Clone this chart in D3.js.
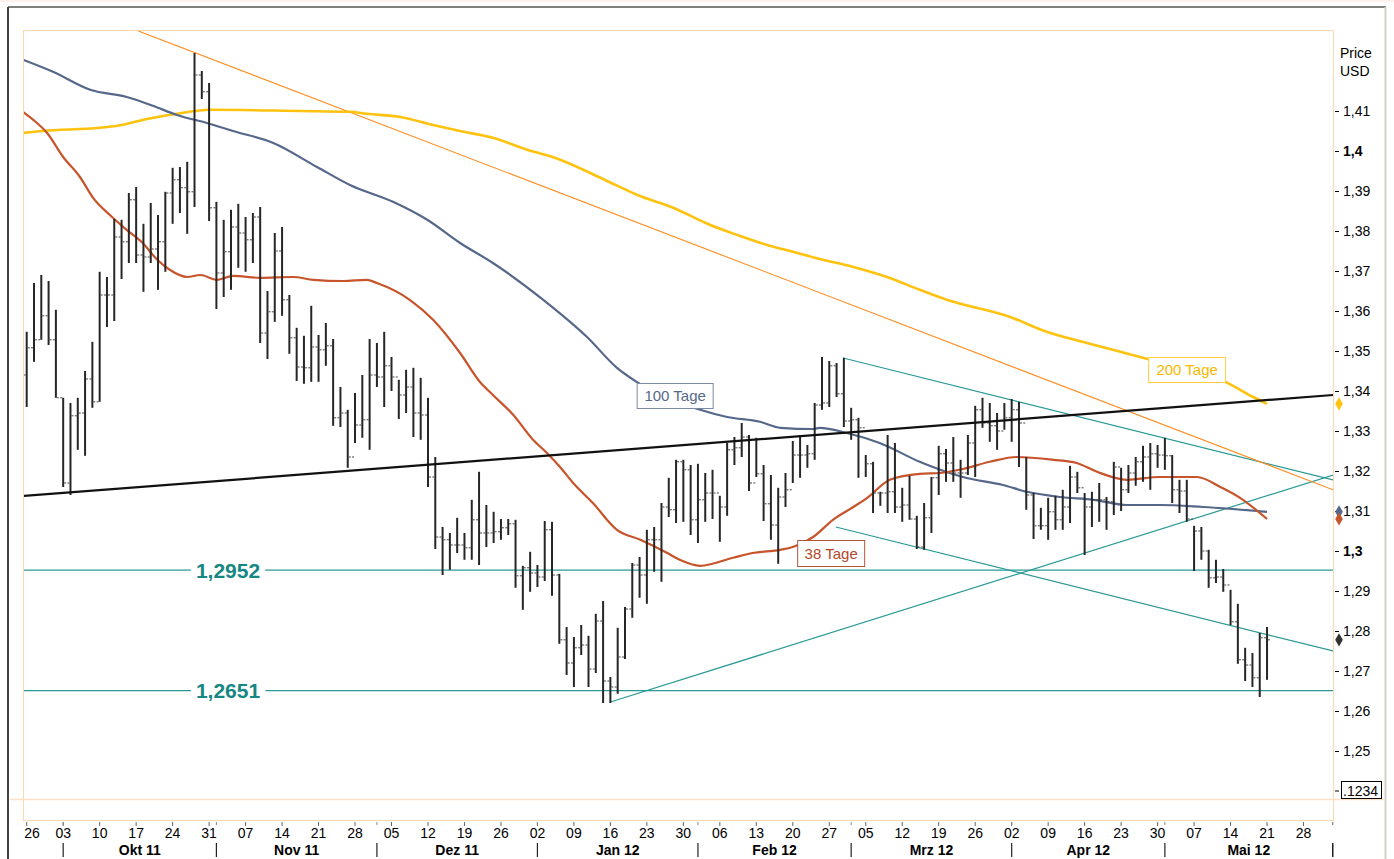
<!DOCTYPE html>
<meta charset="utf-8">
<script src="https://d3js.org/d3.v7.min.js"></script>
<style>
body { margin: 0; background: #fff; }
#chart svg { display: block; font-family: "Liberation Sans", Arial, sans-serif; }
</style>
<div id="chart"></div>
<script>
// ---- data (EUR/USD daily bars, trading-day index 0 = 26 Sep 2011) ----
var highs = [1.3548,1.3670,1.3690,1.3675,1.3603,1.3383,1.3370,1.3383,1.3450,1.3523,
  1.3698,1.3685,1.3830,1.3828,1.3895,1.3910,1.3818,1.3870,1.3840,1.3898,
  1.3958,1.3960,1.3973,1.4245,1.4200,1.4170,1.3873,1.3828,1.3853,1.3868,
  1.3835,1.3845,1.3860,1.3650,1.3795,1.3810,1.3640,1.3558,1.3538,1.3613,
  1.3540,1.3570,1.3530,1.3410,1.3353,1.3395,1.3440,1.3530,1.3520,1.3548,
  1.3485,1.3428,1.3453,1.3458,1.3433,1.3383,1.3235,1.3060,1.3045,1.3083,
  1.3045,1.3128,1.3198,1.3115,1.3098,1.3080,1.3080,1.3078,1.2963,1.2998,
  1.2965,1.3075,1.3073,1.2943,1.2810,1.2785,1.2815,1.2788,1.2843,1.2875,
  1.2685,1.2808,1.2860,1.2970,1.2985,1.3053,1.3060,1.3120,1.3183,1.3228,
  1.3228,1.3215,1.3218,1.3195,1.3203,1.3138,1.3270,1.3285,1.3320,1.3290,
  1.3283,1.3215,1.3190,1.3158,1.3195,1.3275,1.3290,1.3265,1.3370,1.3485,
  1.3475,1.3470,1.3483,1.3358,1.3333,1.3240,1.3223,1.3148,1.3290,1.3270,
  1.3158,1.3188,1.3088,1.3120,1.3185,1.3263,1.3255,1.3285,1.3228,1.3290,
  1.3363,1.3383,1.3370,1.3345,1.3370,1.3380,1.3373,1.3235,1.3145,1.3108,
  1.3133,1.3138,1.3153,1.3213,1.3198,1.3145,1.3148,1.3170,1.3135,1.3223,
  1.3208,1.3215,1.3235,1.3263,1.3270,1.3265,1.3283,1.3240,1.3178,1.3178,
  1.3063,1.3060,1.3003,1.2978,1.2955,1.2903,1.2868,1.2758,1.2745,1.2795,
  1.2810];
var lows = [1.3360,1.3473,1.3528,1.3515,1.3383,1.3160,1.3140,1.3253,1.3238,1.3358,
  1.3373,1.3560,1.3575,1.3680,1.3720,1.3720,1.3648,1.3720,1.3653,1.3698,
  1.3818,1.3845,1.3793,1.3860,1.4130,1.3825,1.3605,1.3635,1.3653,1.3708,
  1.3698,1.3720,1.3520,1.3480,1.3573,1.3588,1.3493,1.3425,1.3418,1.3423,
  1.3423,1.3463,1.3313,1.3310,1.3208,1.3270,1.3283,1.3253,1.3410,1.3360,
  1.3400,1.3330,1.3345,1.3285,1.3278,1.3160,1.3005,1.2940,1.2953,1.2995,
  1.2978,1.2978,1.2965,1.3010,1.3020,1.3028,1.3040,1.2908,1.2853,1.2898,
  1.2910,1.2925,1.2888,1.2768,1.2690,1.2660,1.2740,1.2660,1.2695,1.2620,
  1.2620,1.2643,1.2730,1.2833,1.2883,1.2868,1.2948,1.2923,1.3085,1.3070,
  1.3073,1.3040,1.3020,1.3073,1.3080,1.3023,1.3088,1.3215,1.3235,1.3150,
  1.3185,1.3075,1.3028,1.2968,1.3110,1.3170,1.3183,1.3208,1.3228,1.3353,
  1.3360,1.3385,1.3310,1.3278,1.3183,1.3185,1.3095,1.3113,1.3095,1.3095,
  1.3073,1.3078,1.3005,1.3003,1.3045,1.3140,1.3173,1.3173,1.3133,1.3190,
  1.3185,1.3308,1.3273,1.3253,1.3303,1.3273,1.3210,1.3103,1.3030,1.3053,
  1.3028,1.3053,1.3053,1.3070,1.3145,1.2990,1.3060,1.3073,1.3053,1.3090,
  1.3100,1.3145,1.3163,1.3173,1.3153,1.3208,1.3203,1.3120,1.3095,1.3073,
  1.2950,1.2978,1.2908,1.2920,1.2898,1.2815,1.2718,1.2675,1.2660,1.2635,
  1.2678];
var closes = [1.3508,1.3528,1.3588,1.3528,1.3383,1.3170,1.3338,1.3345,1.3430,1.3373,
  1.3640,1.3640,1.3785,1.3773,1.3878,1.3740,1.3735,1.3755,1.3773,1.3895,
  1.3928,1.3908,1.3898,1.4190,1.4148,1.3858,1.3695,1.3748,1.3810,1.3795,
  1.3778,1.3835,1.3545,1.3598,1.3750,1.3628,1.3533,1.3460,1.3458,1.3510,
  1.3503,1.3513,1.3333,1.3345,1.3235,1.3315,1.3328,1.3440,1.3435,1.3463,
  1.3435,1.3390,1.3410,1.3345,1.3340,1.3185,1.3035,1.3028,1.3015,1.3015,
  1.3008,1.3078,1.3045,1.3045,1.3048,1.3058,1.3068,1.2938,1.2958,1.2945,
  1.2935,1.3053,1.2940,1.2778,1.2720,1.2758,1.2765,1.2705,1.2825,1.2675,
  1.2660,1.2735,1.2855,1.2965,1.2940,1.3028,1.3028,1.3110,1.3103,1.3223,
  1.3203,1.3078,1.3128,1.3145,1.3145,1.3110,1.3253,1.3258,1.3285,1.3170,
  1.3193,1.3118,1.3065,1.3135,1.3153,1.3240,1.3240,1.3243,1.3365,1.3370,
  1.3463,1.3393,1.3325,1.3328,1.3308,1.3218,1.3145,1.3145,1.3148,1.3110,
  1.3115,1.3080,1.3010,1.3083,1.3183,1.3243,1.3220,1.3195,1.3195,1.3270,
  1.3353,1.3320,1.3313,1.3300,1.3333,1.3353,1.3320,1.3140,1.3063,1.3063,
  1.3098,1.3078,1.3110,1.3185,1.3158,1.3110,1.3128,1.3128,1.3123,1.3210,
  1.3153,1.3195,1.3223,1.3235,1.3243,1.3240,1.3238,1.3153,1.3150,1.3080,
  1.3050,1.3000,1.2933,1.2935,1.2915,1.2823,1.2728,1.2715,1.2683,1.2783,
  1.2778];
var firstOpen = 1.3440;

// moving averages: [trading-day index, value]
var ma38 = [[-0.5,1.4098],[0.9,1.4078],[2.8,1.4045],[5.0,1.3985],[7.3,1.3935],[9.1,1.3883],
  [11.4,1.3840],[13.7,1.3803],[15.9,1.3770],[17.9,1.3728],[19.6,1.3703],[22.0,1.3685],
  [23.8,1.3690],[26.1,1.3678],[28.3,1.3688],[32.0,1.3683],[36.5,1.3685],[39.3,1.3678],
  [43.4,1.3675],[46.6,1.3678],[48.0,1.3670],[52.5,1.3628],[55.7,1.3578],[59.4,1.3495],
  [62.1,1.3423],[63.9,1.3390],[66.7,1.3340],[69.4,1.3278],[71.3,1.3245],[73.1,1.3210],
  [74.9,1.3170],[77.6,1.3120],[80.9,1.3053],[84.1,1.3028],[87.8,1.2995],[89.5,1.2978],
  [92.3,1.2963],[96.8,1.2983],[99.5,1.2995],[103.3,1.3003],[105.0,1.3010],[107.8,1.3035],
  [110.5,1.3078],[113.3,1.3110],[115.2,1.3133],[118.3,1.3178],[122.4,1.3193],[125.2,1.3195],
  [128.3,1.3205],[132.0,1.3223],[135.7,1.3235],[140.7,1.3228],[143.9,1.3220],[146.7,1.3198],
  [150.8,1.3178],[155.3,1.3185],[160.4,1.3185],[163.6,1.3160],[166.3,1.3133],[170,1.3080]];
var ma100 = [[-0.5,1.4228],[3.6,1.4198],[8.7,1.4153],[13.7,1.4135],[17.3,1.4113],[20.6,1.4090],
  [24.7,1.4070],[28.3,1.4050],[33.8,1.4020],[39.8,1.3960],[44.3,1.3915],[50.2,1.3873],
  [54.9,1.3828],[59.4,1.3770],[63.9,1.3720],[70.8,1.3628],[76.8,1.3535],[80.9,1.3458],
  [83.6,1.3423],[92.3,1.3353],[96.0,1.3335],[100.5,1.3323],[103.3,1.3308],[107.8,1.3305],
  [108.7,1.3308],[112.4,1.3295],[116.9,1.3270],[122.4,1.3223],[125.2,1.3203],[128.3,1.3185],
  [133.8,1.3165],[137.1,1.3148],[141.6,1.3135],[146.2,1.3128],[150.8,1.3115],[155.3,1.3115],
  [161.2,1.3110],[170,1.3098]];
var ma200 = [[-0.5,1.4045],[2.2,1.4050],[10.0,1.4058],[12.4,1.4063],[16.5,1.4080],[20.6,1.4093],
  [25.1,1.4103],[37.5,1.4100],[44.3,1.4098],[46.6,1.4093],[51.2,1.4085],[55.7,1.4065],
  [59.4,1.4050],[63.9,1.4033],[68.6,1.4003],[72.1,1.3985],[79.0,1.3930],[83.7,1.3890],
  [88.6,1.3858],[93.7,1.3815],[97.4,1.3790],[101.5,1.3765],[105.0,1.3748],[108.7,1.3730],
  [113.3,1.3710],[117.9,1.3685],[122.4,1.3653],[126.1,1.3628],[134.8,1.3585],[139.8,1.3548],
  [145.3,1.3520],[149.9,1.3498],[154.0,1.3478],[164.3,1.3423],[168.1,1.3385],[170,1.3368]];

// trend lines: [[index, value], [index, value]]
var supportLine = [[-0.5, 1.31375], [179.05, 1.3390]];
var resistLine = [[15.3, 1.4300], [179.05, 1.3153]];
var channelTop = [[111.9, 1.34825], [179.05, 1.31775]];
var channelBottom = [[110.9, 1.3060], [179.05, 1.2750]];
var risingLine = [[80.0, 1.26225], [179.05, 1.3190]];
var levels = [1.2952, 1.2651];
var levelLabels = ["1,2952", "1,2651"];

var yTicks = [1.25,1.26,1.27,1.28,1.29,1.30,1.31,1.32,1.33,1.34,1.35,1.36,1.37,1.38,1.39,1.40,1.41];
var monthLabels = ["Okt 11","Nov 11","Dez 11","Jan 12","Feb 12","Mrz 12","Apr 12","Mai 12"];

// ---- chart ----
var W = 1394, H = 859;
var plot = { left: 23, top: 30, right: 1333, bottom: 820 };

var days = d3.timeDay.range(new Date(2011, 8, 26), new Date(2012, 5, 2))
  .filter(function(d) { return d.getDay() !== 0 && d.getDay() !== 6; });

var x = d3.scaleLinear().domain([0, 179]).range([26.7, 1332.7]);
var y = d3.scaleLinear().domain([1.41, 1.25]).range([111, 751]);

var bars = closes.map(function(c, i) {
  return { i: i, open: i === 0 ? firstOpen : closes[i - 1], high: highs[i], low: lows[i], close: c };
});

var svg = d3.select("#chart").append("svg").attr("width", W).attr("height", H);
svg.append("rect").attr("width", W).attr("height", H).attr("fill", "#fff");

// frame
svg.append("line").attr("x1", 0).attr("x2", W).attr("y1", 1).attr("y2", 1)
  .attr("stroke", "#fbe3d6").attr("stroke-width", 1);
svg.append("line").attr("x1", 8).attr("x2", 1386).attr("y1", 7).attr("y2", 7)
  .attr("stroke", "#555").attr("stroke-width", 1.5);
svg.append("line").attr("x1", 8).attr("x2", 8).attr("y1", 7).attr("y2", H)
  .attr("stroke", "#444").attr("stroke-width", 2);
svg.append("line").attr("x1", 1385.5).attr("x2", 1385.5).attr("y1", 7).attr("y2", H)
  .attr("stroke", "#d4d0c8").attr("stroke-width", 2);

svg.append("rect").attr("x", plot.left + 0.5).attr("y", plot.top + 0.5)
  .attr("width", plot.right - plot.left).attr("height", plot.bottom - plot.top)
  .attr("fill", "none").attr("stroke", "#ffd7ad").attr("stroke-width", 1);
svg.append("line").attr("x1", 10).attr("x2", 1385).attr("y1", 799.5).attr("y2", 799.5)
  .attr("stroke", "#ffe0c4").attr("stroke-width", 1.5);

svg.append("clipPath").attr("id", "plotclip").append("rect")
  .attr("x", plot.left + 1).attr("y", plot.top + 1)
  .attr("width", plot.right - plot.left - 1).attr("height", plot.bottom - plot.top - 1);
var g = svg.append("g").attr("clip-path", "url(#plotclip)");

// horizontal levels with labels
var teal = "#2a9995";
levels.forEach(function(v, k) {
  g.append("line").attr("x1", plot.left).attr("x2", plot.right)
    .attr("y1", y(v)).attr("y2", y(v)).attr("stroke", teal).attr("stroke-width", 1.3);
  var t = g.append("text").attr("x", 228).attr("y", y(v) + 7.5)
    .attr("text-anchor", "middle").attr("font-size", "21px").attr("font-weight", "bold")
    .attr("fill", "#178783").text(levelLabels[k]);
  var bb = t.node().getBBox();
  g.insert("rect", function() { return t.node(); })
    .attr("x", bb.x - 5).attr("y", y(v) - 3).attr("width", bb.width + 10).attr("height", 6)
    .attr("fill", "#fff");
});

function segment(pts, color, width) {
  g.append("line")
    .attr("x1", x(pts[0][0])).attr("y1", y(pts[0][1]))
    .attr("x2", x(pts[1][0])).attr("y2", y(pts[1][1]))
    .attr("stroke", color).attr("stroke-width", width);
}
segment(channelTop, teal, 1.2);
segment(channelBottom, teal, 1.2);
segment(risingLine, teal, 1.2);
segment(resistLine, "#ff8a1c", 1.1);

var line = d3.line().x(function(d) { return x(d[0]); }).y(function(d) { return y(d[1]); })
  .curve(d3.curveMonotoneX);
g.append("path").datum(ma200).attr("d", line).attr("fill", "none")
  .attr("stroke", "#ffc20e").attr("stroke-width", 2.6);
g.append("path").datum(ma100).attr("d", line).attr("fill", "none")
  .attr("stroke", "#56688a").attr("stroke-width", 2.2);
g.append("path").datum(ma38).attr("d", line).attr("fill", "none")
  .attr("stroke", "#c7542b").attr("stroke-width", 2.2);

// OHLC bars
var bar = g.selectAll(".bar").data(bars).enter().append("g").attr("class", "bar");
bar.append("line")
  .attr("x1", function(d) { return x(d.i); }).attr("x2", function(d) { return x(d.i); })
  .attr("y1", function(d) { return y(d.high); }).attr("y2", function(d) { return y(d.low); })
  .attr("stroke", "#262626").attr("stroke-width", 2);
bar.append("line")
  .attr("x1", function(d) { return x(d.i) - 3; }).attr("x2", function(d) { return x(d.i) - 1; })
  .attr("y1", function(d) { return y(d.open); }).attr("y2", function(d) { return y(d.open); })
  .attr("stroke", "#444").attr("stroke-width", 1);
bar.append("line")
  .attr("x1", function(d) { return x(d.i) + 1; }).attr("x2", function(d) { return x(d.i) + 3; })
  .attr("y1", function(d) { return y(d.close); }).attr("y2", function(d) { return y(d.close); })
  .attr("stroke", "#444").attr("stroke-width", 1);

segment(supportLine, "#111", 2.2);

// boxed MA labels
function tagBox(i, v, w, h, label, color, textColor) {
  var bx = x(i), by = y(v);
  g.append("rect").attr("x", bx + 0.5).attr("y", by + 0.5).attr("width", w).attr("height", h)
    .attr("fill", "#fff").attr("stroke", color).attr("stroke-width", 1);
  g.append("text").attr("x", bx + w / 2 + 0.5).attr("y", by + h / 2 + 5.5)
    .attr("text-anchor", "middle").attr("font-size", "15px").attr("fill", textColor).text(label);
}
tagBox(83.6, 1.3420, 76, 25, "100 Tage", "#7a89a5", "#56688a");
tagBox(153.7, 1.3485, 77, 25, "200 Tage", "#ffcf40", "#f7b900");
tagBox(105.6, 1.30275, 67, 26, "38 Tage", "#b0553a", "#b3482a");

// right price axis
var fmt = d3.formatLocale({ decimal: ",", thousands: ".", grouping: [3], currency: ["", ""] }).format(".2~f");
var yAxis = svg.append("g").attr("transform", "translate(1335,0)")
  .call(d3.axisRight(y).tickValues(yTicks).tickSize(4).tickPadding(4).tickFormat(fmt));
yAxis.select(".domain").remove();
yAxis.selectAll(".tick line").attr("stroke", "#000");
yAxis.selectAll(".tick text").attr("font-size", "14px").attr("fill", "#000")
  .attr("font-family", "Liberation Sans, Arial, sans-serif")
  .attr("font-weight", function(d) { return (d === 1.30 || d === 1.40) ? "bold" : "normal"; });

svg.append("text").attr("x", 1340).attr("y", 58).attr("font-size", "14px").text("Price");
svg.append("text").attr("x", 1340).attr("y", 76).attr("font-size", "14px").text("USD");

// placeholder scale box at the bottom
svg.append("line").attr("x1", 1335).attr("x2", 1339).attr("y1", y(1.24)).attr("y2", y(1.24)).attr("stroke", "#000");
svg.append("rect").attr("x", 1341.5).attr("y", y(1.24) - 9.5).attr("width", 40).attr("height", 17)
  .attr("fill", "#fff").attr("stroke", "#000").attr("stroke-width", 1);
svg.append("text").attr("x", 1343).attr("y", y(1.24) + 5).attr("font-size", "14px").text(".1234");

// last value markers
var lastMarks = [
  [ma200[ma200.length - 1][1], "#ffc20e"],
  [ma100[ma100.length - 1][1], "#56688a"],
  [ma38[ma38.length - 1][1], "#c7542b"],
  [closes[closes.length - 1], "#333"]
];
svg.selectAll(".mark").data(lastMarks).enter().append("path")
  .attr("d", d3.symbol().type(d3.symbolDiamond).size(50))
  .attr("transform", function(d) { return "translate(1339," + y(d[0]) + ")"; })
  .attr("fill", function(d) { return d[1]; });

// date axis
var xa = svg.append("g");
days.forEach(function(d, i) {
  if (d.getDay() === 1) {
    xa.append("line").attr("x1", x(i)).attr("x2", x(i)).attr("y1", 822).attr("y2", 826)
      .attr("stroke", "#666");
    var tx = Math.max(x(i), 32);
    xa.append("text").attr("x", tx).attr("y", 837.5).attr("text-anchor", "middle")
      .attr("font-size", "14px").text(d3.timeFormat("%d")(d));
  }
});
var bounds = [];
days.forEach(function(d, i) {
  if (i > 0 && d.getMonth() !== days[i - 1].getMonth()) bounds.push(i);
});
bounds.push(179);
bounds.forEach(function(i, k) {
  xa.append("line").attr("x1", x(i)).attr("x2", x(i)).attr("y1", 843).attr("y2", 857)
    .attr("stroke", "#222").attr("stroke-width", 1.2);
  if (k < monthLabels.length) {
    xa.append("text").attr("x", (x(i) + x(bounds[k + 1])) / 2).attr("y", 855)
      .attr("text-anchor", "middle").attr("font-size", "14px").attr("font-weight", "bold")
      .text(monthLabels[k]);
  }
  xa.append("line").attr("x1", x(i)).attr("x2", x(i)).attr("y1", 822).attr("y2", 825)
    .attr("stroke", "#888");
});
</script>
